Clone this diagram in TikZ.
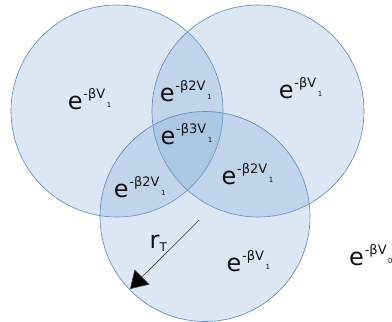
\documentclass[tikz,border=0pt]{standalone}
\usepackage{fontspec}
\setmainfont{DejaVu Sans}
\usetikzlibrary{arrows.meta}
\definecolor{vfill}{HTML}{729FCF}
\definecolor{vline}{HTML}{5F8CC6}
\definecolor{txt}{HTML}{111111}
\newcommand{\bigE}[2]{{\fontsize{24}{24}\selectfont e}\kern0.8pt\raisebox{11pt}{\fontsize{13}{13}\selectfont -β#1V}\kern1.5pt\raisebox{2pt}{\fontsize{7}{7}\selectfont #2}}
\tikzset{
  venn/.style={draw=vline, line width=0.65pt, fill=vfill, fill opacity=0.25},
  lab/.style={anchor=base west, inner sep=0pt, text=txt, text opacity=1},
  radius arrow/.style={draw=black!75, line width=0.6pt, -{Triangle[length=17pt,width=21pt,fill=black]}}
}
\begin{document}
\begin{tikzpicture}[x=1pt,y=-1pt]
\useasboundingbox (0,0) rectangle (392,322);
\coordinate (c1) at (117,111);
\coordinate (c2) at (258,111);
\coordinate (c3) at (205,216.5);
\path[venn] (c1) circle[radius=106pt];
\path[venn] (c2) circle[radius=106pt];
\path[venn] (c3) circle[radius=105pt];
% labels
\node[lab] (l1) at (67.7,109) {\bigE{}{1}};
\node[lab] (l2) at (278.7,98) {\bigE{}{1}};
\node[lab] (l12) at (159.7,101) {\bigE{2}{1}};
\node[lab] (l123) at (160.4,144) {\bigE{3}{1}};
\node[lab] (l13) at (113.7,197) {\bigE{2}{1}};
\node[lab] (l23) at (221.4,184) {\bigE{2}{1}};
\node[lab] (l3) at (226.4,271) {\bigE{}{1}};
\node[lab] (l0) at (349,265.5) {\bigE{}{0}};
\node[lab] (rt) at (149.5,248) {{\fontsize{24}{24}\selectfont r}\raisebox{-3.5pt}{\fontsize{12}{12}\selectfont T}};
% radius arrow
\coordinate (rs) at (199.3,220);
\coordinate (re) at (130,289);
\draw[radius arrow] (rs) -- (re);
\end{tikzpicture}
\end{document}
